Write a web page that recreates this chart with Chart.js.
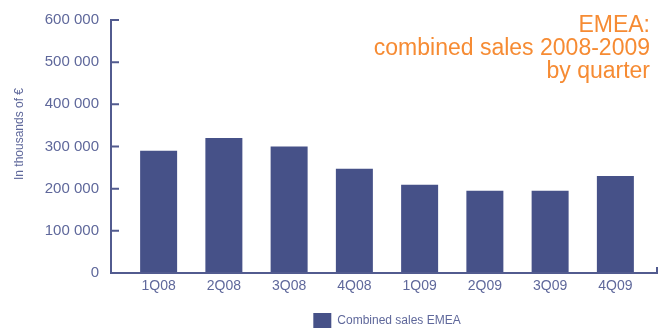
<!DOCTYPE html>
<html>
<head>
<meta charset="utf-8">
<script src="https://cdn.jsdelivr.net/npm/chart.js@4.4.0/dist/chart.umd.min.js"></script>
<style>
  html, body { margin: 0; padding: 0; background: #fff; }
  #wrap { width: 659px; height: 329px; }
</style>
</head>
<body>
<div id="wrap"><canvas id="ventas" width="659" height="329"></canvas></div>
<script>
const trimestres = ['1Q08', '2Q08', '3Q08', '4Q08', '1Q09', '2Q09', '3Q09', '4Q09'];
const ventasEMEA = [290000, 320000, 300000, 247000, 209000, 195000, 195000, 230000];
const ticksY = [0, 100000, 200000, 300000, 400000, 500000, 600000];
const tituloLineas = ['EMEA:', 'combined sales 2008-2009', 'by quarter'];
const tituloEjeY = 'In thousands of €';
const nombreSerie = 'Combined sales EMEA';

const colorBarra = '#465188';
const colorTexto = '#5f689b';
const colorEje = '#525b8f';
const naranja = '#f68b33';
const fuente = "'Liberation Sans', Arial, sans-serif";

const miles = (v) => String(v).replace(/\B(?=(\d{3})+(?!\d))/g, ' ');

// ejes dibujados a mano: la línea vertical queda separada de la primera barra
const ejes = {
    id: 'ejes',
    afterDraw(chart) {
        const ctx = chart.ctx;
        const area = chart.chartArea;
        const y = chart.scales.y;
        const x0 = area.left - 15;
        const x1 = chart.width - 2;
        const base = y.getPixelForValue(0);
        ctx.save();
        ctx.strokeStyle = colorEje;
        ctx.lineWidth = 2;
        ctx.beginPath();
        ctx.moveTo(x0, y.getPixelForValue(600000) - 1);
        ctx.lineTo(x0, base);
        ctx.lineTo(x1, base);
        ctx.lineTo(x1, base - 6);
        ticksY.forEach((v) => {
            const py = y.getPixelForValue(v);
            ctx.moveTo(x0, py);
            ctx.lineTo(x0 + 8, py);
        });
        ctx.stroke();

        // título del eje y
        ctx.fillStyle = colorTexto;
        ctx.font = '12px ' + fuente;
        ctx.textAlign = 'center';
        ctx.textBaseline = 'middle';
        ctx.translate(20, 134);
        ctx.rotate(-Math.PI / 2);
        ctx.fillText(tituloEjeY, 0, 0);
        ctx.restore();

        // título en naranja, alineado a la derecha
        ctx.save();
        ctx.fillStyle = naranja;
        ctx.font = '23px ' + fuente;
        ctx.textAlign = 'right';
        ctx.textBaseline = 'alphabetic';
        tituloLineas.forEach((t, i) => ctx.fillText(t, 650, 31.5 + i * 23));
        ctx.restore();
    }
};

new Chart(document.getElementById('ventas'), {
    type: 'bar',
    data: {
        labels: trimestres,
        datasets: [{
            label: nombreSerie,
            data: ventasEMEA,
            backgroundColor: colorBarra,
            borderWidth: 0,
            barPercentage: 0.567,
            categoryPercentage: 1
        }]
    },
    options: {
        responsive: false,
        animation: false,
        layout: { padding: { top: 20, right: 11, left: 0, bottom: 0 } },
        plugins: {
            tooltip: { enabled: false },
            legend: {
                position: 'bottom',
                fullSize: false,
                maxHeight: 36,
                labels: {
                    boxWidth: 18,
                    boxHeight: 15,
                    padding: 20,
                    color: colorTexto,
                    font: { family: fuente, size: 12 }
                }
            }
        },
        scales: {
            x: {
                grid: { display: false, drawTicks: false },
                border: { display: false },
                ticks: {
                    color: colorTexto,
                    padding: 5,
                    font: { family: fuente, size: 14 }
                },
                afterFit(scale) { scale.height = 20; }
            },
            y: {
                min: 0,
                max: 600000,
                // sin rejilla; tickLength solo separa las etiquetas del área
                grid: { display: false, drawTicks: true, tickLength: 24 },
                border: { display: false },
                ticks: {
                    stepSize: 100000,
                    padding: 3,
                    color: colorTexto,
                    font: { family: fuente, size: 15 },
                    callback: (v) => miles(v)
                },
                afterFit(scale) { scale.width = 126; }
            }
        }
    },
    plugins: [ejes]
});
</script>
</body>
</html>
